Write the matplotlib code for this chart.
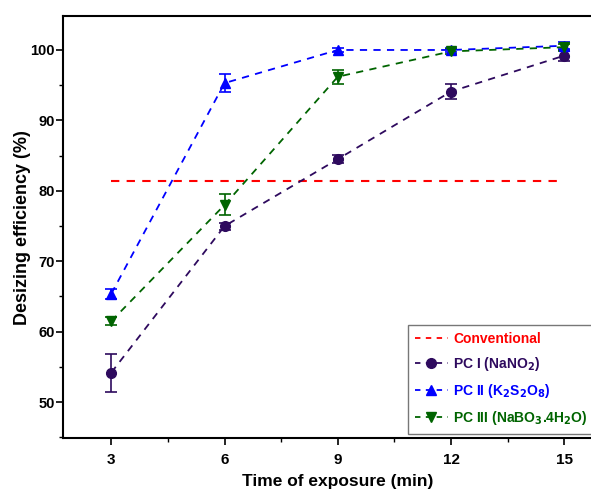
import matplotlib.pyplot as plt
from matplotlib.lines import Line2D
from matplotlib.ticker import MultipleLocator

plt.rcParams['font.family'] = ['Liberation Sans', 'DejaVu Sans']
plt.rcParams['font.weight'] = 'bold'

time = [3, 6, 9, 12, 15]
conventional = 81.4

pc1 = [54.2, 75.0, 84.5, 94.1, 99.2]
pc1_err = [2.7, 0.5, 0.6, 1.1, 0.8]
pc2 = [65.4, 95.3, 100.0, 100.0, 100.6]
pc2_err = [0.7, 1.3, 0.3, 0.3, 0.5]
pc3 = [61.5, 78.0, 96.2, 99.8, 100.4]
pc3_err = [0.6, 1.5, 1.0, 0.4, 0.5]

labels = ['Conventional', 'PC I (NaNO$_2$)', 'PC II (K$_2$S$_2$O$_8$)',
          'PC III (NaBO$_3$.4H$_2$O)']
colors = ['#ff0000', '#2e0a5e', '#0000ff', '#006400']
markers = [None, 'o', '^', 'v']

fig = plt.figure(figsize=(5.91, 4.9), dpi=100)
ax = fig.add_axes([0.1066, 0.106, 0.93, 0.861])

ax.plot([time[0], time[-1]], [conventional, conventional], '--', color=colors[0],
        lw=1.5, dashes=(4, 3.5))
series = [(pc1, pc1_err), (pc2, pc2_err), (pc3, pc3_err)]
for i, (y, e) in enumerate(series, start=1):
    ax.errorbar(time, y, yerr=e, fmt=markers[i], ls='--', color=colors[i], lw=1.3,
                dashes=(4, 3.5), ms=7, capsize=4, elinewidth=1.2,
                capthick=1.2)

ax.set_xlim(1.72, 16.28)
ax.set_ylim(44.9, 104.8)
ax.xaxis.set_major_locator(MultipleLocator(3))
ax.xaxis.set_minor_locator(MultipleLocator(1.5))
ax.yaxis.set_major_locator(MultipleLocator(10))
ax.yaxis.set_minor_locator(MultipleLocator(5))
ax.tick_params(which='major', direction='out', length=5, width=1.2, labelsize=11)
ax.tick_params(axis='y', labelsize=10.5)
ax.tick_params(which='minor', direction='out', length=3, width=1.0)
ax.tick_params(axis='x', pad=6)
ax.tick_params(axis='y', pad=1)
for s in ax.spines.values():
    s.set_linewidth(1.5)

ax.set_xlabel('Time of exposure (min)', fontsize=12.5, fontweight='bold', labelpad=5)
ax.set_ylabel('Desizing efficiency (%)', fontsize=13, fontweight='bold')
ax.yaxis.set_label_coords(-0.058, 0.5)

# legend handles: dashed line with the marker, no error bars
handles = []
for c, m in zip(colors, markers):
    handles.append(Line2D([], [], color=c, ls='--', dashes=(3, 3), lw=1.3,
                          marker=m, ms=7))
leg = ax.legend(handles, labels, loc='lower left', bbox_to_anchor=(0.627, 0.01),
                fontsize=10, frameon=True, fancybox=False, edgecolor='#555555',
                handlelength=2.4, borderpad=0.5, labelspacing=0.65,
                handletextpad=0.4, borderaxespad=0)
leg.get_frame().set_linewidth(1.0)
for t, c in zip(leg.get_texts(), colors):
    t.set_color(c)
    t.set_fontweight('bold')

fig.savefig('out.png', dpi=100)
